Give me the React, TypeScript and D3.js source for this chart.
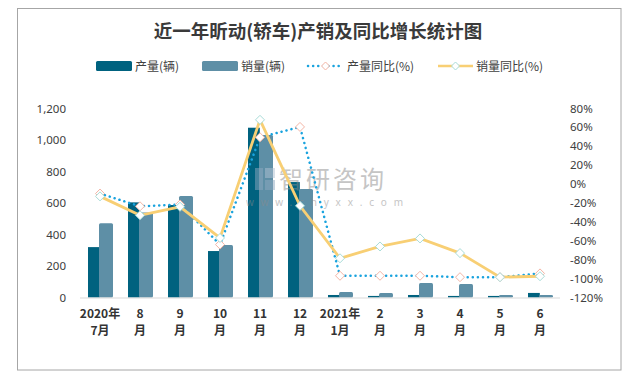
import React from "react";
import * as d3 from "d3";

const categories = ["2020年|7月", "8|月", "9|月", "10|月", "11|月", "12|月", "2021年|1月", "2|月", "3|月", "4|月", "5|月", "6|月"];
const production = [320, 604, 587, 295, 1078, 733, 16, 10, 16, 10, 10, 29];
const sales = [471, 540, 644, 333, 1032, 689, 35, 29, 92, 86, 16, 16];
const productionYoY = [-10, -23.5, -21.5, -64, 49.5, 60.5, -97, -97, -97, -98.5, -98.5, -94.5];
const salesYoY = [-13, -33, -24, -57, 68, -23, -78.5, -66, -57.5, -73, -98.5, -97.5];
const leftTicks = [0, 200, 400, 600, 800, 1000, 1200];
const rightTicks = [80, 60, 40, 20, 0, -20, -40, -60, -80, -100, -120];

const W = 632, H = 376;
const plot = { left: 80, right: 560, top: 108.5, bottom: 297.5 };

export default function App() {
  const x = d3.scaleBand<string>().domain(categories).range([plot.left, plot.right]).padding(0);
  const yL = d3.scaleLinear().domain([0, 1200]).range([plot.bottom, plot.top]);
  const yR = d3.scaleLinear().domain([-120, 80]).range([plot.bottom, plot.top]);
  const cx = (c: string) => (x(c) as number) + x.bandwidth() / 2;

  const line = d3.line<number>().x((_, i) => cx(categories[i])).y((d) => yR(d));
  const diamond = (px: number, py: number, r: number) =>
    `M${px},${py - r}L${px + r},${py}L${px},${py + r}L${px - r},${py}Z`;

  const fontUI = "'Noto Sans', 'Noto Sans CJK SC', sans-serif";
  const cjk = "'Noto Sans CJK SC', sans-serif";

  return (
    <svg width={W} height={H} style={{ position: "absolute", left: 0, top: 0, background: "#fff" }}>
      <rect x={17.5} y={8.5} width={603.5} height={361.5} fill="#fff" stroke="#A6A6A6" strokeWidth={1} />
      <text x={318} y={38} textAnchor="middle" fontFamily={cjk} fontWeight="bold" fontSize={18.5} fill="#3a3a3a">
        近一年昕动(轿车)产销及同比增长统计图
      </text>

      {/* legend */}
      <g fontFamily={cjk} fontSize={12} fill="#404040">
        <rect x={96} y={61} width={36} height={10} rx={1.5} fill="#00627F" />
        <text x={135} y={70.5}>产量(辆)</text>
        <rect x={202} y={61} width={36} height={10} rx={1.5} fill="#5E8FA6" />
        <text x={241} y={70.5}>销量(辆)</text>
        <line x1={308} y1={66} x2={343} y2={66} stroke="#1AA3DE" strokeWidth={2.5} strokeDasharray="0.1 5" strokeLinecap="round" />
        <path d={diamond(325.5, 66, 4)} fill="#fff" stroke="#F4B4A4" strokeWidth={1} />
        <text x={347} y={70.5}>产量同比(%)</text>
        <line x1={438} y1={66} x2={473} y2={66} stroke="#F8CF74" strokeWidth={2.5} />
        <path d={diamond(455.5, 66, 4)} fill="#fff" stroke="#A8DCD8" strokeWidth={1} />
        <text x={476} y={70.5}>销量同比(%)</text>
      </g>

      {/* left axis */}
      <g fontFamily={fontUI} fontSize={11.5} fill="#404040" textAnchor="end">
        {leftTicks.map((t) => (
          <text key={t} x={66} y={yL(t) + 4}>{d3.format(",")(t)}</text>
        ))}
      </g>
      {/* right axis */}
      <g fontFamily={fontUI} fontSize={11.5} fill="#404040" textAnchor="start">
        {rightTicks.map((t) => (
          <text key={t} x={570} y={yR(t) + 4}>{t}%</text>
        ))}
      </g>

      {/* bars */}
      {categories.map((c, i) => {
        const c0 = cx(c);
        return (
          <g key={c}>
            <rect x={c0 - 12} y={yL(production[i])} width={11.8} height={plot.bottom - yL(production[i])} fill="#00627F" />
            <rect x={c0 - 1} y={yL(sales[i])} width={14} height={plot.bottom - yL(sales[i])} rx={1.5} fill="#5E8FA6" />
          </g>
        );
      })}

      {/* baseline */}
      <line x1={plot.left} x2={plot.right} y1={plot.bottom + 0.5} y2={plot.bottom + 0.5} stroke="#D9D9D9" strokeWidth={1} />

      {/* watermark */}
      <g opacity={0.5}>
        <rect x={255} y={168} width={8} height={22} fill="#8FA9C0" />
        <rect x={265} y={168} width={10} height={10} fill="#B0C2D2" />
        <rect x={265} y={180} width={10} height={10} fill="#8FA9C0" />
        <text x={279} y={188} fontFamily={cjk} fontSize={24} fill="#8c8c8c" letterSpacing={3}>智研咨询</text>
        <text x={246} y={206} fontFamily={fontUI} fontSize={10} fill="#8c8c8c" letterSpacing={6.8}>www.chyxx.com</text>
      </g>

      {/* production yoy */}
      <path d={line(productionYoY) || ""} fill="none" stroke="#1AA3DE" strokeWidth={2.5} strokeDasharray="0.1 5" strokeLinecap="round" />
      {/* sales yoy */}
      <path d={line(salesYoY) || ""} fill="none" stroke="#F8CF74" strokeWidth={2.8} />
      {productionYoY.map((v, i) => (
        <path key={"p" + i} d={diamond(cx(categories[i]), yR(v), 4.5)} fill="#fff" stroke="#F4B4A4" strokeWidth={1} />
      ))}
      {salesYoY.map((v, i) => (
        <path key={"s" + i} d={diamond(cx(categories[i]), yR(v), 4.5)} fill="#fff" stroke="#A8DCD8" strokeWidth={1} />
      ))}

      {/* x labels */}
      <g fontFamily={cjk} fontWeight="bold" fontSize={12} fill="#333" textAnchor="middle">
        {categories.map((c) => {
          const [a, b] = c.split("|");
          return (
            <g key={c}>
              <text x={cx(c)} y={317.5}>{a}</text>
              <text x={cx(c)} y={334.5}>{b}</text>
            </g>
          );
        })}
      </g>
    </svg>
  );
}
